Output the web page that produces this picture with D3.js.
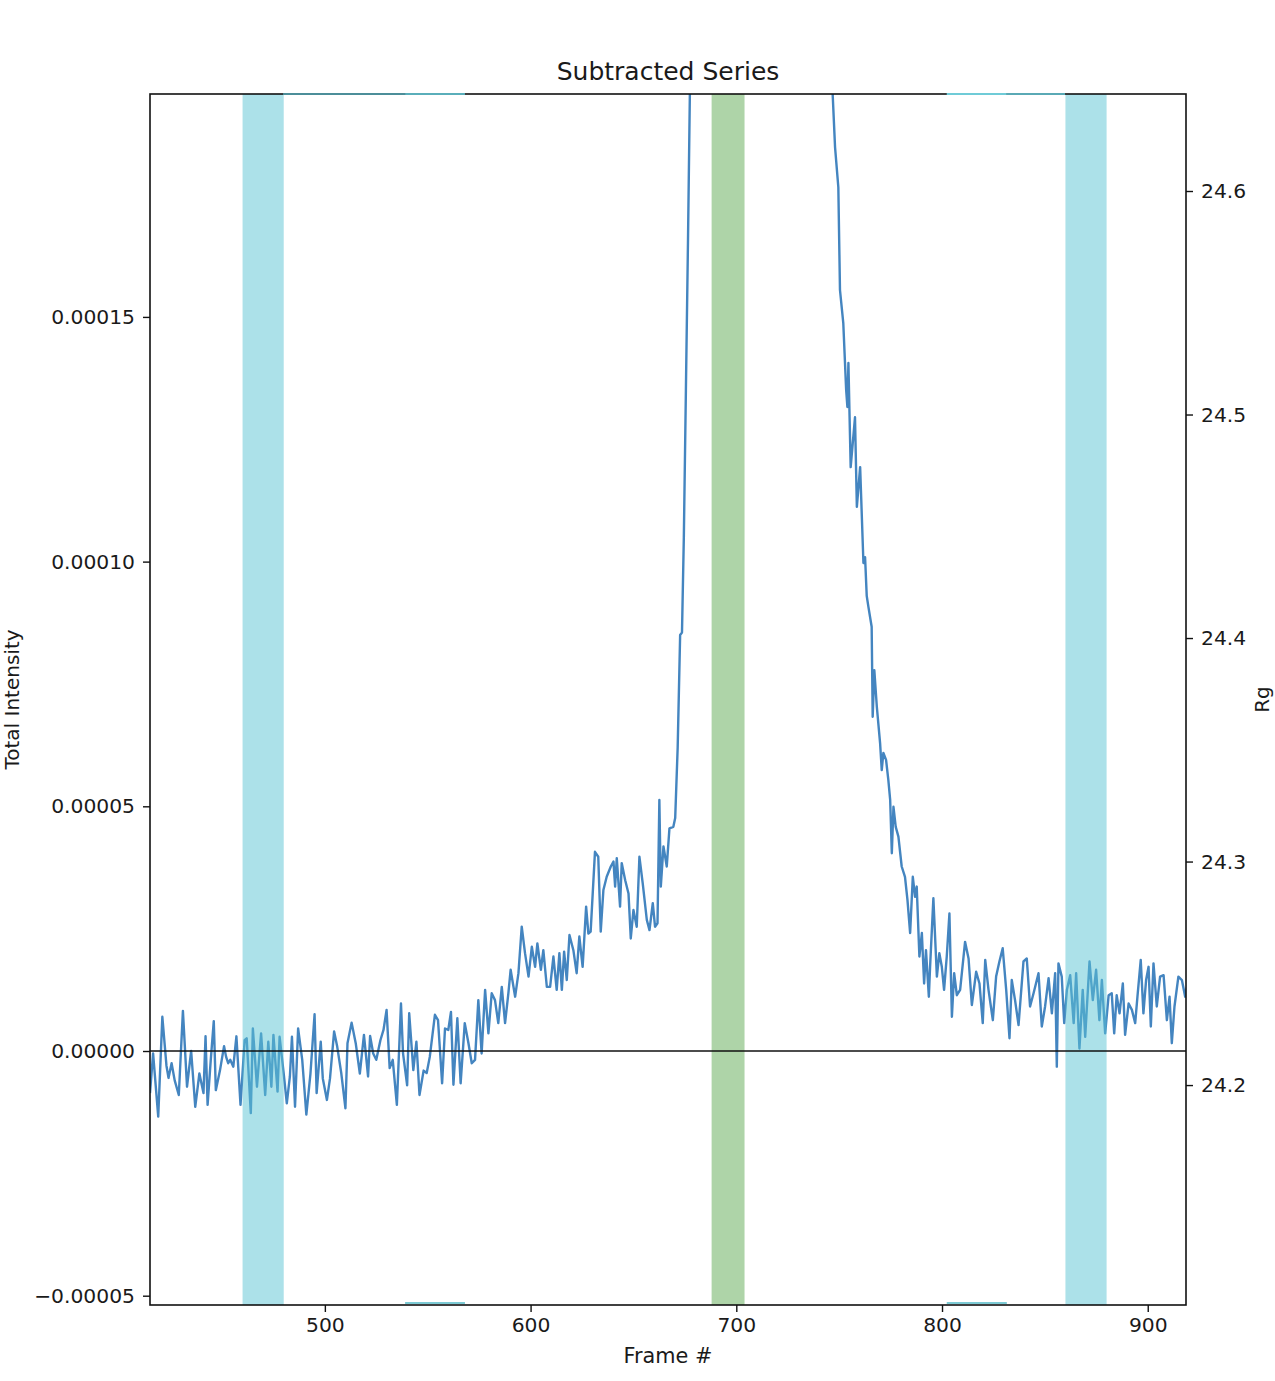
<!DOCTYPE html>
<html>
<head>
<meta charset="utf-8">
<script src="https://cdn.jsdelivr.net/npm/d3@7"></script>
<style>
  body { margin: 0; background: #fff; }
  text { font-family: "DejaVu Sans", sans-serif; fill: #1a1a1a; }
</style>
</head>
<body>
<script>
// frame numbers and total intensity (in units of 1e-5)
var frames = [
  415, 416.5, 419, 421, 423, 424, 425.5, 427, 429, 431, 433, 435, 437, 439, 441, 442, 443, 444.5, 446, 447,
  449, 451, 452, 453, 454, 455.5, 457, 459, 461, 462, 464, 465, 467, 469, 471, 472.5, 474, 475, 477, 478,
  480, 481.5, 483, 484, 485.5, 487, 489, 491, 493, 495, 496, 498, 499, 501, 502.5, 504.5, 506, 508, 510, 511,
  513, 515, 517, 519, 521, 522, 523.5, 525, 527, 528.5, 530, 531.5, 533, 535, 537, 538, 540, 541, 543, 544.5,
  546, 548, 549.5, 551,
  553.5, 555, 557, 558.4, 560, 561.3, 562.5, 564.4, 566, 568, 569.8, 571.4, 573, 574.6, 576.2, 577.9, 579.5, 581.1, 582.7, 584.3,
  586, 587.6, 589.2, 590.3, 592.5, 594.1, 595.7, 597.3, 599, 600.6, 602.2, 603.3, 605, 606.2, 607.9, 609.5, 611.1, 612.7, 614, 615.2,
  616.3, 617.6, 618.9, 620.8, 622.4, 623.7, 625.3, 627, 628.1, 629.2, 631.3, 632.9, 634.1, 635.4, 637, 639, 640.3, 641.1, 641.9, 643.5,
  644.3, 646, 647.6, 648.7, 650, 651.6, 652.9, 654.5, 656.5, 657.8, 659.4, 660.5, 661.7, 662.6, 663.3, 664.6, 666.2, 667.5, 669.4, 670.3,
  671.5, 672.7, 673.6, 674.5, 675.5, 676.5, 677.5, 679, 682, 686, 690, 695, 700, 705, 710, 720, 730, 738, 743, 745.5,
  746.9, 748, 749.6, 750.4, 752, 753.4, 754, 754.5, 755.6, 757.7, 758.6, 760.2, 761.8, 762.6, 763.4, 764.2, 765.8, 766.3, 767.1, 768.3,
  769.9, 770.7, 771.5, 772.8, 773.9, 774.8, 775.6, 776.4, 777.5, 778.8, 780.4, 782, 783.2, 784.5, 785.8, 786.9, 787.7, 789, 790.2, 791.3,
  792.2, 793.6, 794.2, 795.8, 797.5, 798.7, 799.9, 801, 802.3, 803.6, 804.8, 805.9, 807.2,
  808.8, 811.2, 812.9, 814.5, 816.6, 818.2, 819.8, 821, 822.6, 824.7, 826.3, 827.9, 829.5, 831.2, 832.8, 833.9, 835.5, 837.2, 839.6, 841.2,
  842.8, 844.5, 846.9, 848.5, 850.1, 851.8, 853.4, 855, 855.8, 856.6, 858.2, 859.4, 860.7, 862.3, 864, 865.2, 866.8, 868.4, 869.6, 871.7,
  873.3, 874.9, 876.5, 877.7, 879.3, 881, 882.5, 883.7, 884.9, 886.3, 887.9, 889, 890.7, 892.3, 893.9, 895, 896.6, 897.9, 899.2, 900.4,
  901.5, 902.8, 904.4, 906, 907.7, 909.3, 910.6, 911.7, 913, 914.9, 916.6, 918.2, 919
];
var intensity = [
  -0.86, -0.05, -1.34, 0.70, -0.3, -0.55, -0.25, -0.6, -0.9, 0.82, -0.73, 0, -1.14, -0.46, -0.86, 0.3, -1.1, -0.2, 0.61, -0.8,
  -0.4, 0.1, -0.12, -0.25, -0.18, -0.32, 0.3, -1.1, 0.22, 0.26, -1.27, 0.46, -0.73, 0.36, -0.9, 0.19, -0.73, 0.33, -0.83, 0.29,
  -0.46, -1.07, -0.52, 0.29, -1.14, 0.46, -0.18, -1.3, -0.46, 0.75, -0.86, 0.19, -0.56, -1.0, -0.56, 0.4, 0.09, -0.46, -1.17, 0.16,
  0.58, 0.16, -0.46, 0.33, -0.52, 0.31, -0.05, -0.18, 0.22, 0.43, 0.84, -0.35, -0.18, -1.1, 0.97, -0.05, -0.7, 0.77, -0.39, 0.19,
  -0.9, -0.4, -0.45, -0.12,
  0.74, 0.63, -0.66, 0.46, 0.43, 0.8, -0.69, 0.67, -0.66, 0.57, 0.16, -0.25, -0.18, 1.04, -0.05, 1.25, 0.36, 1.18, 1.04, 0.57,
  1.31, 0.57, 1.18, 1.66, 1.11, 1.59, 2.54, 2.0, 1.52, 2.13, 1.72, 2.2, 1.66, 2.06, 1.31, 1.31, 1.93, 1.25, 2.0, 1.25,
  2.03, 1.45, 2.37, 2.06, 1.59, 2.34, 1.72, 2.95, 2.4, 2.44, 4.07, 3.97, 2.44, 3.29, 3.56, 3.77, 3.87, 3.36, 3.94, 2.95,
  3.84, 3.49, 3.22, 2.30, 2.88, 2.54, 3.97, 3.43, 2.68, 2.47, 3.02, 2.54, 2.61, 5.13, 3.36, 4.18, 3.77, 4.55, 4.58, 4.76,
  6.2, 8.5, 8.55, 10.5, 13.5, 16.5, 19.8, 28, 50, 90, 140, 180, 195, 185, 160, 110, 70, 42, 27, 21,
  19.5, 18.47, 17.65, 15.55, 14.88, 13.51, 13.16, 14.06, 11.93, 12.95, 11.12, 11.93, 9.97, 10.09, 9.3, 9.08, 8.67, 6.83, 7.78, 7.04,
  6.29, 5.74, 6.09, 5.95, 5.54, 5.13, 4.04, 4.99, 4.58, 4.38, 3.77, 3.56, 3.09, 2.41, 3.56, 3.15, 3.36, 1.93, 2.41, 1.38,
  2.06, 1.11, 1.72, 3.12, 1.52, 2.0, 1.72, 1.25, 1.93, 2.81, 0.70, 1.59, 1.14,
  1.25, 2.23, 1.89, 0.94, 1.62, 1.38, 0.57, 1.86, 1.25, 0.63, 1.52, 1.83, 2.10, 1.25, 0.26, 1.45, 1.04, 0.53, 1.83, 1.89,
  0.91, 1.18, 1.59, 0.50, 0.91, 1.49, 0.77, 1.59, -0.32, 1.79, 1.52, 0.57, 1.25, 1.55, 0.57, 1.59, 0.05, 1.25, 0.29, 1.83,
  1.04, 1.66, 0.63, 1.45, 0.36, 1.14, 1.18, 0.36, 1.14, 0.77, 1.38, 0.33, 0.97, 0.84, 0.57, 1.11, 1.86, 0.77, 1.45, 1.72,
  0.50, 1.79, 0.91, 1.52, 1.55, 0.63, 1.11, 0.16, 0.91, 1.52, 1.45, 1.11, 1.3
];

var bufferRanges = [[460, 480], [860, 880]];
var peakRanges = [[688, 704]];
// thin strips sitting on the top / bottom frame
var topStrips = [[479.7, 539, "#4c8e99"], [539, 568.1, "#5aaeba"], [802.3, 831.5, "#6fcbd7"], [831.5, 859.8, "#5aa9b5"]];
var bottomStrips = [[539, 568.1, "#7ccad4"], [802.3, 831.5, "#7ccad4"]];

var xTicks = [500, 600, 700, 800, 900];
var leftTicks = [-5, 0, 5, 10, 15];
var rgTicks = [24.2, 24.3, 24.4, 24.5, 24.6];

var W = 1275, H = 1381;
var pL = 150, pT = 94, pR = 1186, pB = 1305;

var svg = d3.select("body").append("svg")
    .attr("width", W)
    .attr("height", H);

var x = d3.scaleLinear().domain([415, 918.6]).range([pL, pR]);
var y = d3.scaleLinear().domain([-5.19, 19.555]).range([pB, pT]);
var yRg = d3.scaleLinear().domain([24.1016, 24.6434]).range([pB, pT]);

svg.append("clipPath").attr("id", "plotclip")
  .append("rect")
    .attr("x", pL).attr("y", pT)
    .attr("width", pR - pL).attr("height", pB - pT);

var plot = svg.append("g").attr("clip-path", "url(#plotclip)");

var pts = frames.map(function(f, i) { return [f, intensity[i]]; });

var line = d3.line()
    .x(function(d) { return x(d[0]); })
    .y(function(d) { return y(d[1]); });

plot.append("path")
    .datum(pts)
    .attr("d", line)
    .attr("fill", "none")
    .attr("stroke", "#4485c0")
    .attr("stroke-width", 2.4)
    .attr("stroke-linejoin", "round");

// spans go over the line
plot.selectAll("rect.buf")
    .data(bufferRanges)
    .enter().append("rect")
    .attr("class", "buf")
    .attr("x", function(d) { return x(d[0]); })
    .attr("y", pT)
    .attr("width", function(d) { return x(d[1]) - x(d[0]); })
    .attr("height", pB - pT)
    .attr("fill", "#59c3d3")
    .attr("fill-opacity", 0.5);

plot.selectAll("rect.peak")
    .data(peakRanges)
    .enter().append("rect")
    .attr("class", "peak")
    .attr("x", function(d) { return x(d[0]); })
    .attr("y", pT)
    .attr("width", function(d) { return x(d[1]) - x(d[0]); })
    .attr("height", pB - pT)
    .attr("fill", "#5da951")
    .attr("fill-opacity", 0.5);

// zero line
svg.append("line")
    .attr("x1", pL).attr("x2", pR)
    .attr("y1", y(0)).attr("y2", y(0))
    .attr("stroke", "#111")
    .attr("stroke-width", 1.6);

// frame
svg.append("rect")
    .attr("x", pL).attr("y", pT)
    .attr("width", pR - pL).attr("height", pB - pT)
    .attr("fill", "none")
    .attr("stroke", "#111")
    .attr("stroke-width", 1.6);

svg.selectAll("line.tstrip")
    .data(topStrips)
    .enter().append("line")
    .attr("class", "tstrip")
    .attr("x1", function(d) { return x(d[0]); })
    .attr("x2", function(d) { return x(d[1]); })
    .attr("y1", pT).attr("y2", pT)
    .attr("stroke", function(d) { return d[2]; })
    .attr("stroke-width", 2);

svg.selectAll("line.bstrip")
    .data(bottomStrips)
    .enter().append("line")
    .attr("class", "bstrip")
    .attr("x1", function(d) { return x(d[0]); })
    .attr("x2", function(d) { return x(d[1]); })
    .attr("y1", pB - 2).attr("y2", pB - 2)
    .attr("stroke", function(d) { return d[2]; })
    .attr("stroke-width", 2);

// axes
var xAxis = d3.axisBottom(x).tickValues(xTicks).tickSize(7).tickPadding(6);
var gx = svg.append("g").attr("transform", "translate(0," + pB + ")").call(xAxis);

var fmt = function(d) {
  var s = (d * 1e-5).toFixed(5);
  return s.replace("-", "\u2212");
};
var yAxis = d3.axisLeft(y).tickValues(leftTicks).tickFormat(fmt).tickSize(7).tickPadding(8);
var gy = svg.append("g").attr("transform", "translate(" + pL + ",0)").call(yAxis);

var rAxis = d3.axisRight(yRg).tickValues(rgTicks).tickFormat(d3.format(".1f")).tickSize(7).tickPadding(8);
var gr = svg.append("g").attr("transform", "translate(" + pR + ",0)").call(rAxis);

[gx, gy, gr].forEach(function(g) {
  g.select(".domain").remove();
  g.selectAll(".tick line").attr("stroke", "#111").attr("stroke-width", 1.4);
  g.selectAll(".tick text")
    .style("font-family", "DejaVu Sans")
    .style("font-size", "20.3px")
    .attr("fill", "#222");
});

// labels
svg.append("text")
    .attr("x", (pL + pR) / 2)
    .attr("y", 80)
    .attr("text-anchor", "middle")
    .style("font-size", "25px")
    .text("Subtracted Series");

svg.append("text")
    .attr("x", (pL + pR) / 2)
    .attr("y", 1363)
    .attr("text-anchor", "middle")
    .style("font-size", "20.8px")
    .text("Frame #");

svg.append("text")
    .attr("transform", "translate(19," + ((pT + pB) / 2) + ") rotate(-90)")
    .attr("text-anchor", "middle")
    .style("font-size", "20px")
    .text("Total Intensity");

svg.append("text")
    .attr("transform", "translate(1269," + ((pT + pB) / 2) + ") rotate(-90)")
    .attr("text-anchor", "middle")
    .style("font-size", "20px")
    .text("Rg");
</script>
</body>
</html>
